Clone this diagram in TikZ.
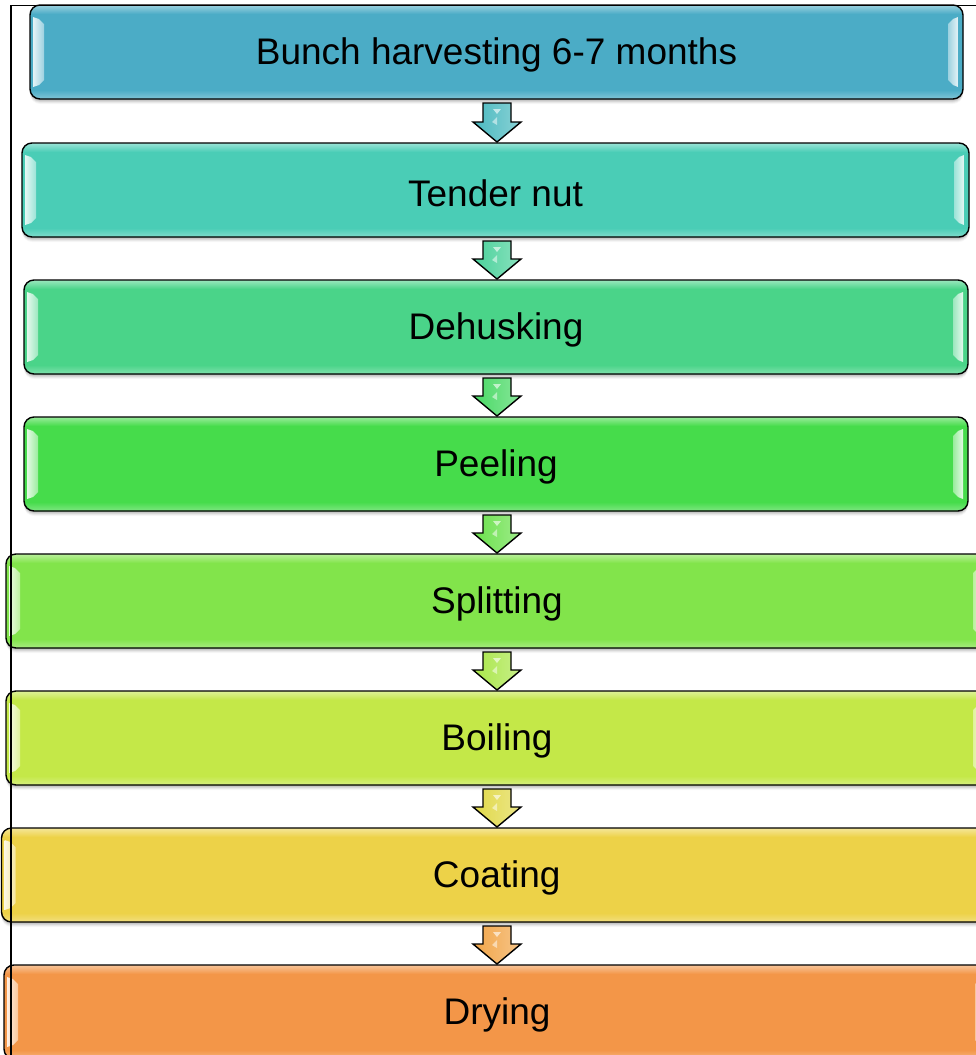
\documentclass[tikz,border=0pt]{standalone}
\usepackage{fontspec}
\setmainfont{Liberation Sans}
\definecolor{c1}{RGB}{75,172,198}
\definecolor{c2}{RGB}{74,205,182}
\definecolor{c3}{RGB}{74,212,137}
\definecolor{c4}{RGB}{70,220,75}
\definecolor{c5}{RGB}{130,228,75}
\definecolor{c6}{RGB}{196,232,72}
\definecolor{c7}{RGB}{237,210,72}
\definecolor{c8}{RGB}{243,150,72}
\tikzset{
  boxline/.style={draw=black, line width=1.4pt, rounded corners=10pt},
  boxtext/.style={font=\fontsize{37}{44}\selectfont, text=black},
  arrowline/.style={draw=black, line width=1.4pt, line join=miter},
  frameline/.style={draw=black, line width=1.3pt},
}
\newcommand\glossbox[7]{%
  \foreach \k/\op in {1/0.10,2/0.08,3/0.07,4/0.05,5/0.03}{
    \fill[black,opacity=\op,rounded corners=10pt] (#2,#3+\k) rectangle (#4,#5+\k);
  }
  \fill[#6,rounded corners=10pt] (#2,#3) rectangle (#4,#5);
  \begin{scope}
    \clip[rounded corners=10pt] (#2,#3) rectangle (#4,#5);
    \shade[top color=#6!55!white,bottom color=#6] (#2,#3) rectangle (#4,#3+9);
    \shade[top color=#6,bottom color=#6!70!white] (#2,#5-9) rectangle (#4,#5);
  \end{scope}
  \shade[left color=#6!15!white,right color=#6!55!white] (#2+3,#3+12) -- (#2+9,#3+14) -- (#2+14,#3+19) -- (#2+14,#5-19) -- (#2+9,#5-14) -- (#2+3,#5-12) -- cycle;
  \shade[right color=#6!15!white,left color=#6!55!white] (#4-5,#3+12) -- (#4-10,#3+14) -- (#4-15,#3+19) -- (#4-15,#5-19) -- (#4-10,#5-14) -- (#4-5,#5-12) -- cycle;
  \draw[boxline] (#2,#3) rectangle (#4,#5);
  \node[boxtext, minimum width={#4-#2}, minimum height={#5-#3}, inner sep=0pt, yshift=-3pt] (#1) at ({(#2+#4)/2},{(#3+#5)/2}) {#7};
}
\newcommand\blockarrow[3]{%
  \path[arrowline, left color=#3, right color=#3!65!white] (483,#1) -- (511,#1) -- (511,#2-20) -- (521,#2-20) -- (497,#2) -- (473,#2-20) -- (483,#2-20) -- cycle;
  \fill[white,opacity=0.6] (493,#1+6) -- (501,#1+6) -- (497,#1+11) -- cycle;
  \fill[white,opacity=0.5] (497,#1+14) -- (492,#1+19) -- (497,#1+22) -- cycle;
}
\begin{document}
\begin{tikzpicture}[x=1pt,y=-1pt]
\useasboundingbox (0,0) rectangle (976,1055);
\clip (0,0) rectangle (976,1055);
\glossbox{b1}{30}{5}{963}{99}{c1}{Bunch harvesting 6-7 months}
\glossbox{b2}{22}{143}{969}{237}{c2}{Tender nut}
\glossbox{b3}{24}{280}{968}{374}{c3}{Dehusking}
\glossbox{b4}{24}{417}{968}{511}{c4}{Peeling}
\glossbox{b5}{6}{554}{988}{648}{c5}{Splitting}
\glossbox{b6}{6}{691}{988}{785}{c6}{Boiling}
\glossbox{b7}{1.5}{828}{992}{922}{c7}{Coating}
\glossbox{b8}{4}{965}{990}{1059}{c8}{Drying}
\blockarrow{103}{142}{c1!60!c2}
\blockarrow{241}{279}{c2!40!c3}
\blockarrow{378}{416}{c3!40!c4}
\blockarrow{515}{553}{c4!40!c5}
\blockarrow{652}{690}{c5!40!c6}
\blockarrow{789}{827}{c6!30!c7}
\blockarrow{926}{964}{c7!25!c8}
\draw[frameline] (11,1060) -- (11,5.5) -- (980,5.5);
\end{tikzpicture}
\end{document}
